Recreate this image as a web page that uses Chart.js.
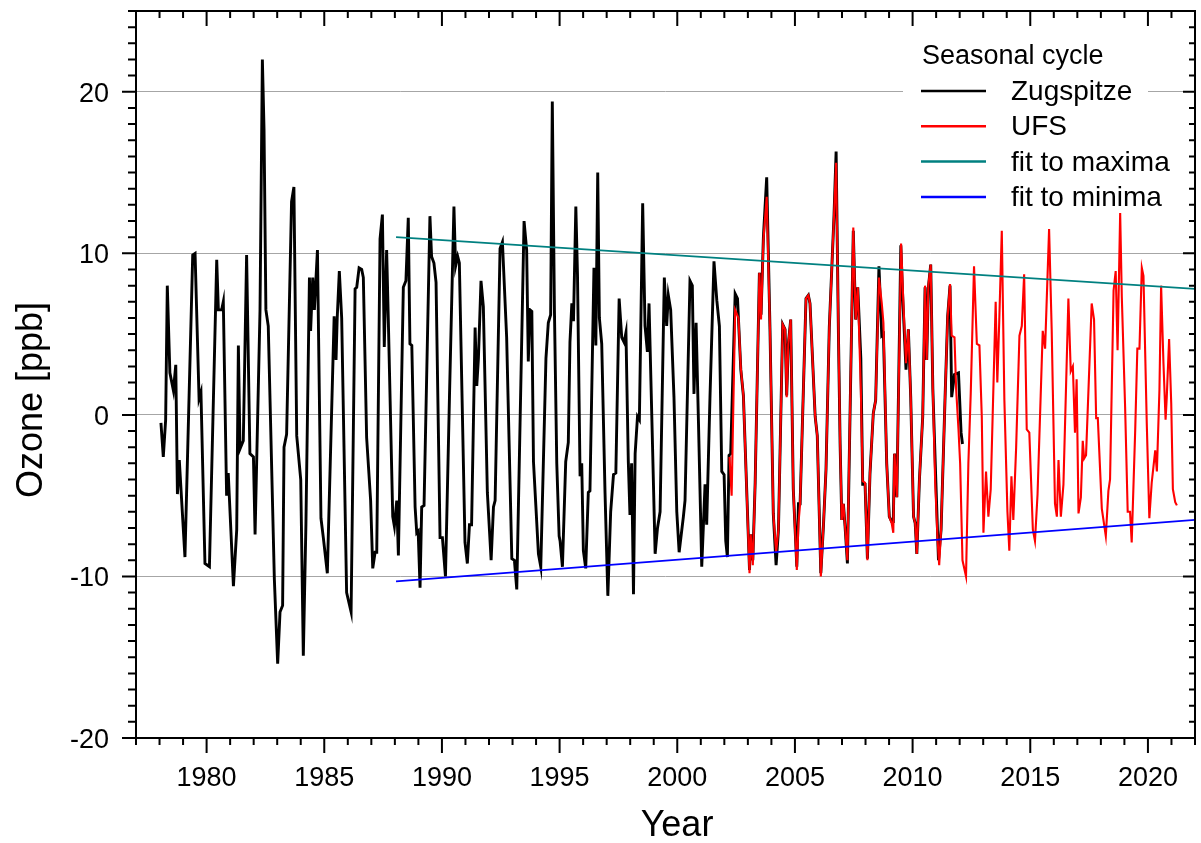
<!DOCTYPE html>
<html>
<head>
<meta charset="utf-8">
<title>Seasonal cycle of ozone</title>
<script src="https://cdn.jsdelivr.net/npm/chart.js@4.4.1/dist/chart.umd.min.js"></script>
<style>
  html, body { margin: 0; padding: 0; background: #fff; }
  #wrap { width: 1201px; height: 843px; position: relative; }
</style>
</head>
<body>
<div id="wrap"><canvas id="ozoneChart"></canvas></div>
<script>
// axis setup
const xMin = 1977, xMax = 2022;
const yMin = -20, yMax = 25;
const xMajorTicks = [1980, 1985, 1990, 1995, 2000, 2005, 2010, 2015, 2020];
const yMajorTicks = [-20, -10, 0, 10, 20];
const xTitle = 'Year';
const yTitle = 'Ozone [ppb]';
const legendTitle = 'Seasonal cycle';

// Zugspitze seasonal cycle
const zugYears = [
  1978.06, 1978.16, 1978.26, 1978.33, 1978.44, 1978.59, 1978.69, 1978.76, 1978.84, 1979.08,
  1979.41, 1979.51, 1979.68, 1979.76, 1979.93, 1980.12, 1980.43, 1980.50, 1980.64, 1980.71,
  1980.85, 1980.92, 1981.14, 1981.28, 1981.35, 1981.42, 1981.56, 1981.70, 1981.84, 1981.99,
  1982.06, 1982.27, 1982.37, 1982.44, 1982.52, 1982.62, 1982.88, 1983.02, 1983.12, 1983.23,
  1983.29, 1983.40, 1983.61, 1983.71, 1983.83, 1984.00, 1984.11, 1984.22, 1984.37, 1984.42,
  1984.51, 1984.58, 1984.71, 1984.86, 1984.96, 1985.13, 1985.42, 1985.50, 1985.55, 1985.64,
  1985.74, 1985.95, 1986.14, 1986.31, 1986.38, 1986.48, 1986.59, 1986.66, 1986.80, 1986.97,
  1987.06, 1987.16, 1987.23, 1987.37, 1987.47, 1987.55, 1987.65, 1987.72, 1987.91, 1987.98,
  1988.08, 1988.15, 1988.36, 1988.47, 1988.57, 1988.64, 1988.72, 1988.86, 1988.93, 1988.99,
  1989.07, 1989.14, 1989.24, 1989.49, 1989.56, 1989.66, 1989.75, 1989.92, 1990.02, 1990.15,
  1990.32, 1990.51, 1990.58, 1990.67, 1990.74, 1990.98, 1991.08, 1991.17, 1991.26, 1991.41,
  1991.48, 1991.55, 1991.66, 1991.76, 1991.93, 1992.09, 1992.19, 1992.26, 1992.47, 1992.57,
  1992.75, 1992.97, 1993.08, 1993.18, 1993.49, 1993.60, 1993.67, 1993.74, 1993.82, 1993.89,
  1993.99, 1994.10, 1994.20, 1994.42, 1994.52, 1994.62, 1994.69, 1994.78, 1994.88, 1994.98,
  1995.02, 1995.12, 1995.26, 1995.37, 1995.44, 1995.52, 1995.59, 1995.69, 1995.76, 1995.87,
  1995.94, 1996.01, 1996.11, 1996.22, 1996.29, 1996.46, 1996.54, 1996.62, 1996.69, 1996.79,
  1996.93, 1997.05, 1997.17, 1997.29, 1997.39, 1997.53, 1997.64, 1997.74, 1997.82, 1997.92,
  1997.99, 1998.06, 1998.14, 1998.21, 1998.31, 1998.39, 1998.53, 1998.63, 1998.73, 1998.80,
  1998.94, 1999.06, 1999.16, 1999.27, 1999.45, 1999.55, 1999.62, 1999.72, 1999.86, 1999.98,
  2000.08, 2000.26, 2000.33, 2000.54, 2000.64, 2000.71, 2000.80, 2000.90, 2001.04, 2001.18,
  2001.25, 2001.39, 2001.56, 2001.68, 2001.79, 2001.89, 2001.99, 2002.06, 2002.13, 2002.20,
  2002.27, 2002.46, 2002.56, 2002.70, 2002.81, 2003.07, 2003.12, 2003.21, 2003.31, 2003.49,
  2003.56, 2003.66, 2003.80, 2003.94, 2004.08, 2004.20, 2004.30, 2004.48, 2004.58, 2004.65,
  2004.72, 2004.82, 2004.93, 2005.08, 2005.15, 2005.22, 2005.47, 2005.57, 2005.64, 2005.86,
  2005.95, 2006.10, 2006.21, 2006.32, 2006.46, 2006.66, 2006.75, 2006.85, 2006.92, 2006.99,
  2007.06, 2007.13, 2007.23, 2007.48, 2007.58, 2007.67, 2007.80, 2007.88, 2007.98, 2008.08,
  2008.19, 2008.33, 2008.43, 2008.57, 2008.69, 2008.76, 2008.90, 2009.01, 2009.11, 2009.18,
  2009.23, 2009.33, 2009.50, 2009.58, 2009.72, 2009.82, 2009.92, 2010.04, 2010.11, 2010.18,
  2010.29, 2010.43, 2010.53, 2010.60, 2010.67, 2010.77, 2010.86, 2010.99, 2011.10, 2011.21,
  2011.38, 2011.49, 2011.59, 2011.66, 2011.78, 2011.95, 2012.06, 2012.12
];
const zugOzone = [
  -0.5, -2.6, -0.3, 8.0, 2.6, 1.5, 3.1, -4.9, -2.8, -8.8,
  9.9, 10.0, 1.0, 1.4, -9.2, -9.4, 9.6, 6.5, 6.5, 7.0,
  -5.0, -3.6, -10.6, -7.1, 4.3, -2.1, -1.6, 9.9, -2.4, -2.6,
  -7.4, 6.5, 22.0, 17.7, 6.5, 5.5, -10.2, -15.4, -12.2, -11.8,
  -2.0, -1.2, 13.2, 14.1, -1.3, -4.0, -14.9, -6.8, 8.5, 5.2,
  8.5, 6.5, 10.2, -6.4, -7.6, -9.8, 6.1, 3.4, 6.0, 8.9,
  6.0, -11.0, -12.2, 7.8, 7.9, 9.1, 9.0, 8.5, -1.4, -5.3,
  -9.5, -8.5, -8.5, 10.9, 12.4, 4.2, 10.2, 6.0, -6.3, -6.9,
  -5.3, -8.7, 7.9, 8.3, 12.2, 4.4, 4.3, -5.7, -7.3, -7.2,
  -10.7, -5.7, -5.6, 12.3, 9.8, 9.4, 8.2, -7.6, -7.6, -10.0,
  1.1, 12.9, 9.2, 9.8, 9.4, -7.9, -9.2, -6.8, -6.8, 5.4,
  1.8, 3.5, 8.3, 6.7, -4.8, -9.0, -5.7, -5.3, 10.3, 10.7,
  4.8, -8.9, -9.0, -10.8, 12.0, 10.2, 3.3, 6.5, 6.4, -2.9,
  -5.6, -8.6, -9.4, 3.5, 5.7, 6.2, 19.4, 6.5, -3.0, -7.5,
  -7.8, -9.4, -2.9, -1.7, 4.5, 6.9, 5.8, 12.9, 8.7, -3.8,
  -3.0, -8.4, -9.5, -4.8, -4.7, 9.1, 4.3, 15.0, 6.0, 4.4,
  -4.8, -11.2, -6.0, -3.7, -3.6, 7.2, 4.8, 4.5, 5.1, -2.9,
  -6.2, -3.0, -11.1, -2.4, -0.1, -0.3, 13.1, 5.5, 3.9, 6.9,
  -1.4, -8.6, -7.0, -6.0, 8.5, 5.5, 7.4, 6.5, 1.1, -6.0,
  -8.5, -6.3, -5.3, 8.3, 8.0, 1.3, 5.7, -0.4, -9.4, -4.3,
  -6.8, 1.1, 9.5, 7.1, 5.5, -3.5, -3.7, -7.8, -8.8, -2.5,
  -2.4, 7.5, 7.2, 2.8, 1.2, -9.6, -7.4, -9.0, -4.2, 8.8,
  6.2, 11.0, 14.7, 5.3, -6.1, -9.3, -7.1, 5.6, 5.3, 1.2,
  4.4, 5.9, -4.6, -9.4, -5.5, -5.5, 7.2, 7.4, 6.9, -0.1,
  -1.3, -9.8, -6.9, -3.4, 5.4, 12.3, 16.3, 4.9, -1.8, -6.5,
  -5.5, -6.9, -9.2, 11.4, 5.9, 7.9, 3.5, -4.3, -4.3, -8.9,
  -3.6, 0.1, 0.9, 9.2, 4.9, 5.0, -3.0, -6.3, -6.6, -6.6,
  -2.4, -5.1, 10.5, 7.3, 2.8, 5.3, 1.1, -6.3, -6.7, -8.6,
  -4.0, -0.1, 7.9, 3.4, 7.9, 9.3, 1.6, -4.2, -9.0, -7.1,
  1.1, 6.1, 8.0, 1.1, 2.5, 2.6, -1.1, -1.8
];

// UFS (Schneefernerhaus) seasonal cycle
const ufsYears = [
  2002.22, 2002.31, 2002.46, 2002.60, 2002.70, 2002.81, 2003.07, 2003.12, 2003.21, 2003.31,
  2003.49, 2003.56, 2003.66, 2003.80, 2003.94, 2004.08, 2004.20, 2004.30, 2004.48, 2004.58,
  2004.65, 2004.72, 2004.82, 2004.93, 2005.08, 2005.15, 2005.22, 2005.47, 2005.57, 2005.64,
  2005.86, 2005.95, 2006.10, 2006.21, 2006.32, 2006.46, 2006.66, 2006.75, 2006.85, 2006.92,
  2006.99, 2007.06, 2007.13, 2007.23, 2007.48, 2007.58, 2007.67, 2007.80, 2007.88, 2007.98,
  2008.08, 2008.19, 2008.33, 2008.43, 2008.57, 2008.69, 2008.76, 2008.90, 2009.01, 2009.11,
  2009.18, 2009.23, 2009.33, 2009.51, 2009.62, 2009.72, 2009.82, 2009.92, 2010.04, 2010.11,
  2010.18, 2010.29, 2010.43, 2010.53, 2010.60, 2010.67, 2010.77, 2010.86, 2010.96, 2011.06,
  2011.13, 2011.21, 2011.38, 2011.49, 2011.59, 2011.66, 2011.78, 2011.85, 2011.95, 2012.02,
  2012.12, 2012.27, 2012.37, 2012.47, 2012.61, 2012.73, 2012.84, 2012.94, 2013.01, 2013.12,
  2013.22, 2013.32, 2013.53, 2013.60, 2013.68, 2013.79, 2013.90, 2014.03, 2014.11, 2014.20,
  2014.28, 2014.40, 2014.54, 2014.64, 2014.74, 2014.85, 2014.96, 2015.11, 2015.20, 2015.31,
  2015.53, 2015.63, 2015.80, 2015.91, 2016.05, 2016.13, 2016.20, 2016.30, 2016.41, 2016.62,
  2016.72, 2016.81, 2016.90, 2016.97, 2017.05, 2017.15, 2017.23, 2017.29, 2017.37, 2017.61,
  2017.71, 2017.80, 2017.87, 2018.04, 2018.21, 2018.32, 2018.39, 2018.54, 2018.63, 2018.71,
  2018.82, 2018.89, 2019.03, 2019.14, 2019.24, 2019.31, 2019.46, 2019.55, 2019.64, 2019.74,
  2019.81, 2019.95, 2020.06, 2020.16, 2020.31, 2020.38, 2020.49, 2020.56, 2020.66, 2020.75,
  2020.80, 2020.90, 2020.99, 2021.06, 2021.16, 2021.23
];
const ufsOzone = [
  -2.6, -5.0, 6.5, 6.0, 2.9, 1.2, -9.8, -7.4, -9.3, -4.2,
  8.8, 5.9, 10.8, 13.5, 5.3, -6.1, -8.5, -7.1, 5.6, 5.3,
  1.1, 4.4, 5.9, -4.6, -9.6, -6.7, -5.5, 7.2, 7.4, 6.9,
  -0.1, -1.3, -10.0, -6.9, -3.4, 5.4, 12.3, 15.6, 4.9, -1.8,
  -6.5, -5.5, -6.9, -9.0, 11.6, 5.9, 7.9, 1.6, -4.1, -4.2,
  -9.0, -3.6, 0.1, 0.9, 8.5, 6.9, 5.7, -3.0, -6.3, -6.7,
  -7.3, -2.4, -5.1, 10.6, 6.5, 3.2, 5.3, 1.1, -6.3, -6.7,
  -8.6, -4.0, -0.1, 8.0, 3.4, 8.0, 9.3, 1.6, -4.2, -7.7,
  -9.3, -7.1, 1.1, 6.1, 8.1, 4.9, 4.8, 1.6, -0.9, -3.0,
  -9.0, -10.0, -3.0, 1.3, 9.2, 4.4, 4.3, -0.1, -7.3, -3.5,
  -6.3, -4.6, 7.0, 2.0, 5.7, 11.4, 0.9, -6.0, -8.4, -3.8,
  -6.5, -2.0, 4.9, 5.5, 8.7, -0.9, -1.1, -7.1, -7.8, -4.9,
  5.2, 4.1, 11.5, 5.3, -5.5, -6.3, -2.8, -6.3, -4.3, 7.2,
  2.7, 3.0, -1.1, 2.2, -6.1, -5.1, -1.6, -2.7, -2.5, 6.9,
  5.9, -0.2, -0.2, -5.8, -7.5, -4.7, -4.0, 7.7, 8.9, 4.0,
  12.5, 7.3, 0.5, -6.0, -6.0, -7.9, -0.9, 4.1, 4.1, 9.1,
  8.6, -0.5, -6.4, -4.2, -2.2, -3.5, 1.6, 8.0, 3.2, -0.3,
  1.1, 4.7, 0.7, -4.6, -5.4, -5.6
];

// linear fits to the yearly maxima and minima
const maxFitYears = [1988.05, 2022];
const maxFitOzone = [11.0, 7.8];
const minFitYears = [1988.05, 2022];
const minFitOzone = [-10.3, -6.5];

const FONT = '"Liberation Sans", Arial, Helvetica, sans-serif';

function toPoints(xs, ys) {
    return xs.map((x, i) => ({ x: x, y: ys[i] }));
}

// frame, minor ticks, labels, titles and legend in the Origin style
const originStyle = {
    id: 'originStyle',
    afterDatasetsDraw(chart) {
        const ctx = chart.ctx;
        const a = chart.chartArea;
        const xs = chart.scales.x;
        const ys = chart.scales.y;
        ctx.save();

        // legend box (white fill, no border)
        ctx.fillStyle = '#fff';
        ctx.fillRect(903, 28, 245, 181);
        ctx.fillStyle = '#000';
        ctx.textAlign = 'left';
        ctx.textBaseline = 'alphabetic';
        ctx.font = '27px ' + FONT;
        ctx.fillText(legendTitle, 922, 64);
        chart.data.datasets.forEach((ds, i) => {
            const ly = 91 + i * 35.3;
            ctx.strokeStyle = ds.borderColor;
            ctx.lineWidth = ds.legendWidth;
            ctx.beginPath();
            ctx.moveTo(921, ly);
            ctx.lineTo(986, ly);
            ctx.stroke();
            ctx.font = '28px ' + FONT;
            ctx.fillText(ds.label, 1011, ly + 9);
        });

        // axis frame
        ctx.strokeStyle = '#000';
        ctx.lineWidth = 2;
        ctx.strokeRect(a.left, a.top, a.right - a.left, a.bottom - a.top);

        // tick marks: bottom/left outward, top/right inward
        ctx.beginPath();
        for (let yr = xMin; yr <= xMax; yr++) {
            const px = xs.getPixelForValue(yr);
            const len = xMajorTicks.includes(yr) ? 15 : 7;
            ctx.moveTo(px, a.bottom);
            ctx.lineTo(px, a.bottom + len);
            ctx.moveTo(px, a.top);
            ctx.lineTo(px, a.top + len);
        }
        for (let v = yMin; v <= yMax; v++) {
            const py = ys.getPixelForValue(v);
            const major = yMajorTicks.includes(v);
            ctx.moveTo(a.left, py);
            ctx.lineTo(a.left - (major ? 14 : 8), py);
            ctx.moveTo(a.right, py);
            ctx.lineTo(a.right - (major ? 12 : 6), py);
        }
        ctx.stroke();

        // tick labels
        ctx.fillStyle = '#000';
        ctx.font = '27px ' + FONT;
        ctx.textAlign = 'center';
        xMajorTicks.forEach(yr => {
            ctx.fillText(String(yr), xs.getPixelForValue(yr), 786);
        });
        ctx.textAlign = 'right';
        yMajorTicks.forEach(v => {
            ctx.fillText(String(v), 109, ys.getPixelForValue(v) + 10);
        });

        // axis titles
        ctx.font = '36px ' + FONT;
        ctx.textAlign = 'center';
        ctx.fillText(xTitle, 677, 836);
        ctx.save();
        ctx.translate(42, 400);
        ctx.rotate(-Math.PI / 2);
        ctx.fillText(yTitle, 0, 0);
        ctx.restore();

        ctx.restore();
    }
};

const ctx = document.getElementById('ozoneChart').getContext('2d');
const ozoneChart = new Chart(ctx, {
    type: 'line',
    data: {
        datasets: [
            {
                label: 'Zugspitze',
                data: toPoints(zugYears, zugOzone),
                borderColor: '#000000',
                borderWidth: 2.9,
                legendWidth: 2.5,
                order: 3
            },
            {
                label: 'UFS',
                data: toPoints(ufsYears, ufsOzone),
                borderColor: '#ff0000',
                borderWidth: 2.1,
                legendWidth: 2.5,
                order: 2
            },
            {
                label: 'fit to maxima',
                data: toPoints(maxFitYears, maxFitOzone),
                borderColor: '#008080',
                borderWidth: 1.8,
                legendWidth: 2.5,
                order: 1
            },
            {
                label: 'fit to minima',
                data: toPoints(minFitYears, minFitOzone),
                borderColor: '#0000ff',
                borderWidth: 1.8,
                legendWidth: 2.5,
                order: 0
            }
        ]
    },
    options: {
        responsive: true,
        maintainAspectRatio: false,
        animation: false,
        events: [],
        layout: { padding: { left: 136, right: 6, top: 11, bottom: 105 } },
        elements: {
            point: { radius: 0 },
            line: { tension: 0, fill: false }
        },
        plugins: {
            legend: { display: false },
            tooltip: { enabled: false }
        },
        scales: {
            x: {
                type: 'linear',
                min: xMin,
                max: xMax,
                grid: { display: false },
                border: { display: false },
                ticks: { display: false },
                afterFit: s => { s.height = 0; }
            },
            y: {
                type: 'linear',
                min: yMin,
                max: yMax,
                afterBuildTicks: s => { s.ticks = yMajorTicks.map(v => ({ value: v })); },
                grid: {
                    drawTicks: false,
                    lineWidth: 1,
                    color: c => (c.tick && c.tick.value === yMin) ? 'rgba(0,0,0,0)' : '#a6a6a6'
                },
                border: { display: false },
                ticks: { display: false },
                afterFit: s => { s.width = 0; }
            }
        }
    },
    plugins: [originStyle]
});
</script>
</body>
</html>
